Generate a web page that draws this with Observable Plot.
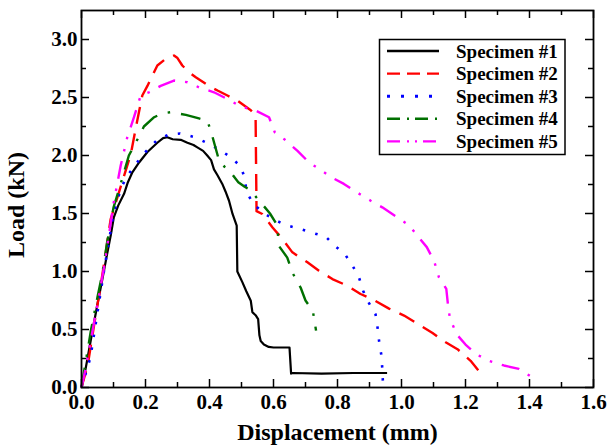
<!DOCTYPE html>
<html>
<head>
<meta charset="utf-8">
<script src="https://cdn.jsdelivr.net/npm/d3@7"></script>
<script src="https://cdn.jsdelivr.net/npm/@observablehq/plot@0.6"></script>
<style>
  html, body { margin: 0; padding: 0; background: #fff; }
  svg { display: block; }
  #chart svg text { font-family: "Liberation Serif", "Times New Roman", serif !important; }
</style>
</head>
<body>
<div id="chart"></div>
<script>
// ---- data (displacement mm, load kN) ----
const seriesNames = ["Specimen #1", "Specimen #2", "Specimen #3", "Specimen #4", "Specimen #5"];

const specimen1 = [[0,0],[0.01,0.12],[0.02,0.27],[0.035,0.5],[0.05,0.72],[0.065,0.93],[0.08,1.15],[0.092,1.32],[0.101,1.467],[0.115,1.57],[0.133,1.67],[0.145,1.77],[0.159,1.855],[0.18,1.94],[0.206,2.03],[0.237,2.11],[0.255,2.15],[0.268,2.157],[0.285,2.14],[0.31,2.135],[0.331,2.11],[0.35,2.09],[0.362,2.07],[0.38,2.04],[0.393,2.0],[0.405,1.96],[0.414,1.88],[0.425,1.83],[0.44,1.755],[0.45,1.69],[0.461,1.61],[0.472,1.496],[0.485,1.395],[0.487,1.0],[0.503,0.906],[0.515,0.83],[0.529,0.748],[0.534,0.65],[0.545,0.62],[0.552,0.59],[0.556,0.45],[0.56,0.4],[0.57,0.37],[0.585,0.35],[0.6,0.345],[0.65,0.345],[0.655,0.12],[0.66,0.125],[0.75,0.12],[0.85,0.125],[0.955,0.125]];

const specimen2 = [[0,0],[0.02,0.2],[0.04,0.55],[0.06,0.88],[0.075,1.15],[0.091,1.45],[0.11,1.62],[0.128,1.78],[0.154,2.01],[0.172,2.27],[0.19,2.517],[0.206,2.6],[0.237,2.776],[0.263,2.833],[0.289,2.862],[0.3,2.84],[0.315,2.776],[0.336,2.718],[0.357,2.675],[0.398,2.6],[0.425,2.56],[0.456,2.517],[0.487,2.474],[0.529,2.39],[0.544,2.345],[0.547,1.52],[0.565,1.496],[0.597,1.38],[0.628,1.28],[0.659,1.165],[0.706,1.08],[0.742,1.007],[0.784,0.935],[0.831,0.877],[0.872,0.806],[0.914,0.754],[0.961,0.68],[1.008,0.62],[1.05,0.55],[1.097,0.47],[1.138,0.39],[1.175,0.33],[1.216,0.23],[1.242,0.14],[1.247,0.10]];

const specimen3 = [[0,0],[0.028,0.26],[0.05,0.65],[0.07,1.0],[0.085,1.25],[0.1,1.5],[0.125,1.73],[0.145,1.83],[0.162,1.9],[0.2,2.03],[0.235,2.13],[0.272,2.18],[0.308,2.19],[0.351,2.16],[0.388,2.114],[0.427,2.057],[0.464,1.99],[0.495,1.913],[0.511,1.807],[0.515,1.69],[0.536,1.587],[0.567,1.507],[0.604,1.444],[0.641,1.398],[0.682,1.367],[0.723,1.332],[0.763,1.3],[0.791,1.223],[0.823,1.15],[0.847,1.05],[0.867,0.95],[0.88,0.834],[0.898,0.73],[0.919,0.63],[0.925,0.52],[0.93,0.40],[0.937,0.28],[0.94,0.16],[0.942,0.04]];

const specimen4 = [[0,0],[0.01,0.17],[0.03,0.5],[0.05,0.78],[0.065,0.98],[0.08,1.25],[0.1,1.55],[0.125,1.78],[0.148,2.0],[0.175,2.14],[0.195,2.25],[0.227,2.33],[0.253,2.364],[0.279,2.373],[0.326,2.35],[0.367,2.32],[0.393,2.30],[0.404,2.215],[0.43,1.956],[0.448,1.9],[0.466,1.855],[0.49,1.77],[0.51,1.73],[0.529,1.70],[0.546,1.64],[0.565,1.58],[0.589,1.50],[0.607,1.42],[0.612,1.38],[0.617,1.22],[0.643,1.12],[0.659,0.99],[0.685,0.86],[0.70,0.75],[0.723,0.66],[0.733,0.49]];

const specimen5 = [[0,0],[0.012,0.15],[0.03,0.42],[0.05,0.72],[0.07,1.03],[0.085,1.3],[0.101,1.6],[0.1225,1.913],[0.143,2.157],[0.164,2.33],[0.185,2.517],[0.211,2.545],[0.2475,2.6],[0.289,2.646],[0.331,2.632],[0.367,2.588],[0.414,2.545],[0.461,2.48],[0.498,2.42],[0.539,2.394],[0.586,2.33],[0.604,2.2],[0.636,2.135],[0.675,2.04],[0.711,1.94],[0.745,1.88],[0.782,1.81],[0.82,1.755],[0.862,1.68],[0.904,1.61],[0.94,1.553],[0.987,1.467],[1.023,1.40],[1.055,1.29],[1.079,1.21],[1.102,1.09],[1.117,0.95],[1.14,0.85],[1.145,0.72],[1.151,0.60],[1.172,0.46],[1.2,0.37],[1.232,0.29],[1.273,0.23],[1.32,0.19],[1.367,0.16],[1.404,0.095]];

const xMajorTicks = [0, 0.2, 0.4, 0.6, 0.8, 1.0, 1.2, 1.4, 1.6];
const xMinorTicks = [0.1, 0.3, 0.5, 0.7, 0.9, 1.1, 1.3, 1.5];
const yMajorTicks = [0, 0.5, 1.0, 1.5, 2.0, 2.5, 3.0];
const yMinorTicks = [0.25, 0.75, 1.25, 1.75, 2.25, 2.75];
const xTitle = "Displacement (mm)";
const yTitle = "Load (kN)";

// ---- styles ----
const colors = ["#000000", "#ff0000", "#0000ff", "#007000", "#ff00ff"];
const dashes = [null, "17 10", "2.5 10.5", "20 11 2.5 11", "18 10 2.5 10 2.5 10"];
const legendDashes = [null, "13 7", "3 11", "13 7 2 6", "13 7 2 6 2 6"];
const widths = [2.2, 2.4, 2.6, 2.4, 2.4];
const series = [specimen1, specimen2, specimen3, specimen4, specimen5];

const W = 612, H = 446;
const mL = 81, mR = 19, mT = 10, mB = 59;
const fw = W - mL - mR, fh = H - mT - mB;
const font = "Liberation Serif";
const majorLen = 8, minorLen = 5;

const lineMarks = series.map((s, i) => Plot.line(s, {
  x: d => d[0], y: d => d[1],
  stroke: colors[i], strokeWidth: widths[i],
  strokeDasharray: dashes[i] || undefined,
  strokeLinejoin: "round", strokeLinecap: "butt", curve: "linear"
}));

const tickStyle = {stroke: "black", strokeWidth: 1.5};

const chart = Plot.plot({
  width: W, height: H,
  marginLeft: mL, marginRight: mR, marginTop: mT, marginBottom: mB,
  style: {fontFamily: font, background: "white"},
  x: {domain: [0, 1.6]},
  y: {domain: [0, 3.25]},
  marks: [
    ...lineMarks,
    Plot.tickX(xMajorTicks, {x: d => d, insetTop: fh - majorLen, ...tickStyle}),
    Plot.tickX(xMinorTicks, {x: d => d, insetTop: fh - minorLen, ...tickStyle}),
    Plot.tickX(xMajorTicks, {x: d => d, insetBottom: fh - majorLen, ...tickStyle}),
    Plot.tickX(xMinorTicks, {x: d => d, insetBottom: fh - minorLen, ...tickStyle}),
    Plot.tickY(yMajorTicks, {y: d => d, insetRight: fw - majorLen, ...tickStyle}),
    Plot.tickY(yMinorTicks, {y: d => d, insetRight: fw - minorLen, ...tickStyle}),
    Plot.tickY(yMajorTicks, {y: d => d, insetLeft: fw - majorLen, ...tickStyle}),
    Plot.tickY(yMinorTicks, {y: d => d, insetLeft: fw - minorLen, ...tickStyle}),
    Plot.frame({stroke: "black", strokeWidth: 1.8}),
    Plot.axisX({ticks: xMajorTicks, tickFormat: d3.format(".1f"), tickSize: 0, tickPadding: 7,
      fontSize: 21, fontWeight: "bold", fontFamily: font, label: null, fill: "black"}),
    Plot.axisY({ticks: yMajorTicks, tickFormat: d3.format(".1f"), tickSize: 0, tickPadding: 4,
      fontSize: 21, fontWeight: "bold", fontFamily: font, label: null, fill: "black"}),
    Plot.text([xTitle], {text: d => d, frameAnchor: "bottom", textAnchor: "middle", lineAnchor: "middle",
      dy: 45, fontSize: 24, fontWeight: "bold", fontFamily: font, fill: "black"}),
    Plot.text([yTitle], {text: d => d, frameAnchor: "left", textAnchor: "middle", lineAnchor: "middle",
      rotate: -90, dx: -65, dy: 6, fontSize: 24, fontWeight: "bold", fontFamily: font, fill: "black"})
  ]
});

document.getElementById("chart").appendChild(chart);

// ---- legend (inside the frame, top-right) ----
const svg = d3.select(chart);
const lg = svg.append("g").attr("class", "legend");
const bx = 379.5, by = 39.5, bw = 185.5, bh = 115;
lg.append("rect").attr("x", bx).attr("y", by).attr("width", bw).attr("height", bh)
  .attr("fill", "white").attr("stroke", "black").attr("stroke-width", 1.5);
seriesNames.forEach((name, i) => {
  const cy = 51 + i * 22.6;
  lg.append("line").attr("x1", 387).attr("x2", 439).attr("y1", cy).attr("y2", cy)
    .attr("stroke", colors[i]).attr("stroke-width", i === 2 ? 3 : 2.4)
    .attr("stroke-dasharray", legendDashes[i] || null);
  lg.append("text").attr("x", 456).attr("y", cy + 6.5)
    .attr("text-anchor", "start")
    .attr("font-family", font).attr("font-size", 19).attr("font-weight", "bold")
    .attr("fill", "black").text(name);
});
</script>
</body>
</html>
